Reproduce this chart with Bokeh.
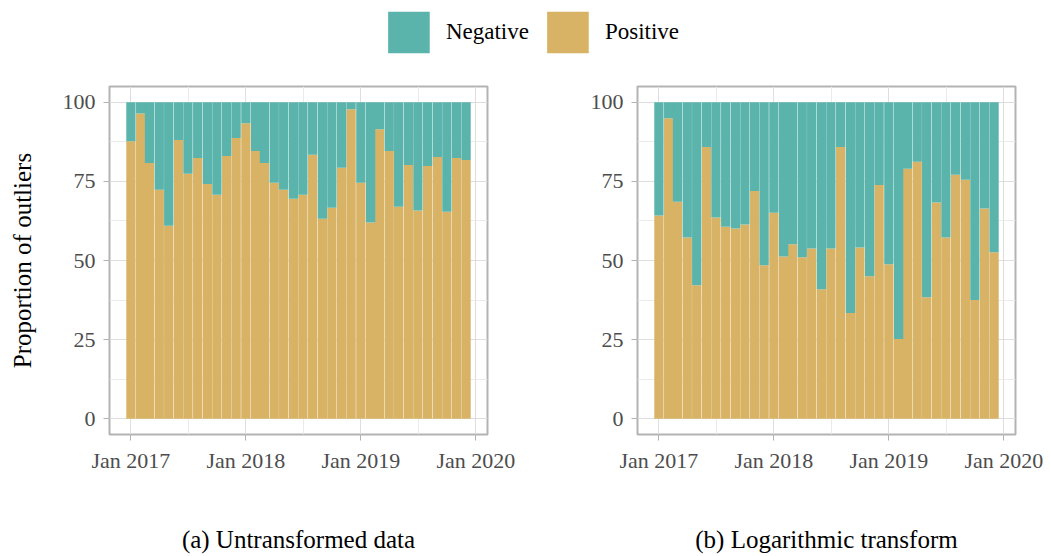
import pandas as pd
from bokeh.plotting import figure
from bokeh.models import (Range1d, FixedTicker, DatetimeTickFormatter, Legend,
                          LegendItem, ColumnDataSource)
from bokeh.layouts import column, row
from bokeh.embed import file_html
from bokeh.resources import INLINE

# ---------------- data ----------------
months = list(pd.date_range("2017-01-01", periods=36, freq="MS"))

positive_untransformed = [87.7, 96.5, 80.8, 72.4, 61.0, 88.1, 77.4, 82.4, 74.2, 70.8, 83.0, 88.7,
                          93.4, 84.6, 80.8, 74.6, 72.4, 69.5, 70.8, 83.4, 63.2, 66.7, 79.3, 97.8,
                          74.6, 62.0, 91.5, 84.6, 67.0, 80.2, 65.8, 79.9, 82.7, 65.4, 82.4, 81.8]

positive_log = [64.2, 95.0, 68.6, 57.3, 42.2, 85.9, 63.6, 60.7, 60.1, 61.4, 72.0, 48.5,
                65.1, 51.3, 55.1, 51.0, 53.8, 40.9, 53.8, 85.9, 33.4, 54.1, 45.0, 73.9,
                48.8, 25.2, 79.0, 81.2, 38.4, 68.3, 57.3, 77.1, 75.5, 37.5, 66.4, 52.6]

series_labels = ["Negative", "Positive"]
x_tick_dates = ["2017-01-01", "2018-01-01", "2019-01-01", "2020-01-01"]
x_minor_dates = ["2017-07-02", "2018-07-02", "2019-07-02"]
y_ticks = [0, 25, 50, 75, 100]
y_minor = [12.5, 37.5, 62.5, 87.5]
captions = ["(a) Untransformed data", "(b) Logarithmic transform"]
y_title = "Proportion of outliers"

# ---------------- style ----------------
TEAL = "#5AB4AC"
GOLD = "#D8B365"
FONT = "Liberation Serif"
DAY_MS = 86400000
TOP, FRAME_W, FRAME_H, BOTTOM = 28, 378, 348, 122


def ms(d):
    return pd.Timestamp(d).value // 10**6


def make_panel(pos, caption, ylabel, ml, mr):
    total = [100.0] * len(pos)
    src = ColumnDataSource(dict(month=months, pos=pos, total=total))
    p = figure(width=ml + FRAME_W + mr, height=TOP + FRAME_H + BOTTOM,
               x_axis_type="datetime",
               x_range=Range1d(pd.Timestamp("2016-10-25"), pd.Timestamp("2020-02-07")),
               y_range=Range1d(-5, 105),
               toolbar_location=None, output_backend="svg",
               min_border_left=ml, min_border_right=mr,
               min_border_top=TOP, min_border_bottom=BOTTOM)
    p.vbar(x="month", bottom=0, top="pos", width=29.5 * DAY_MS, source=src,
           fill_color=GOLD, line_color=None)
    p.vbar(x="month", bottom="pos", top="total", width=29.5 * DAY_MS, source=src,
           fill_color=TEAL, line_color=None)

    p.outline_line_color = "#B3B3B3"
    p.outline_line_width = 2

    p.xaxis.ticker = FixedTicker(ticks=[ms(d) for d in x_tick_dates],
                                 minor_ticks=[ms(d) for d in x_minor_dates])
    p.xaxis.formatter = DatetimeTickFormatter(years="%b %Y", months="%b %Y",
                                              days="%b %Y", hours="%b %Y")
    p.yaxis.ticker = FixedTicker(ticks=y_ticks, minor_ticks=y_minor)

    for ax in (p.xaxis, p.yaxis):
        ax.axis_line_color = None
        ax.major_tick_line_color = "#B3B3B3"
        ax.major_tick_line_width = 1
        ax.major_tick_out = 6
        ax.major_tick_in = 0
        ax.minor_tick_line_color = None
        ax.major_label_text_font = FONT
        ax.major_label_text_font_size = "22px"
        ax.major_label_text_color = "#4D4D4D"
        ax.axis_label_text_font = FONT
        ax.axis_label_text_font_style = "normal"
        ax.axis_label_text_color = "black"
        ax.axis_label_text_font_size = "25px"
    p.yaxis.major_label_standoff = 8
    p.xaxis.major_label_standoff = 7

    p.xaxis.axis_label = caption
    p.xaxis.axis_label_standoff = 50
    if ylabel:
        p.yaxis.axis_label = ylabel
        p.yaxis.axis_label_standoff = 24

    for g in (p.xgrid, p.ygrid):
        g.grid_line_color = "#DEDEDE"
        g.grid_line_width = 1
        g.minor_grid_line_color = "#EBEBEB"
        g.minor_grid_line_width = 1
    return p


p1 = make_panel(positive_untransformed, captions[0], y_title, 109, 40)
p2 = make_panel(positive_log, captions[1], None, 110, 33)

# legend strip (zero-height proxy glyphs only carry the legend swatch styles)
leg = figure(width=1048, height=58, toolbar_location=None, output_backend="svg",
             x_range=Range1d(0, 1), y_range=Range1d(0, 1),
             x_axis_location=None, y_axis_location=None,
             min_border=0, min_border_left=13)
leg.outline_line_color = None
leg.grid.visible = False
proxy = ColumnDataSource(dict(x=[0.5], y=[0.0]))
r_neg = leg.vbar(x="x", bottom="y", top="y", width=0.0, source=proxy,
                 fill_color=TEAL, line_color=None)
r_pos = leg.vbar(x="x", bottom="y", top="y", width=0.0, source=proxy,
                 fill_color=GOLD, line_color=None)
legend = Legend(items=[LegendItem(label=series_labels[0], renderers=[r_neg]),
                       LegendItem(label=series_labels[1], renderers=[r_pos])],
                orientation="horizontal", location="top_center",
                glyph_width=52, glyph_height=52, label_height=52,
                label_standoff=12, spacing=12, padding=0, margin=6,
                border_line_color=None, background_fill_alpha=0,
                label_text_font=FONT, label_text_font_size="23px",
                label_text_color="black", label_text_baseline="middle")
leg.add_layout(legend, "center")

layout = column(leg, row(p1, p2))

with open("out.html", "w") as f:
    f.write(file_html(layout, INLINE))
